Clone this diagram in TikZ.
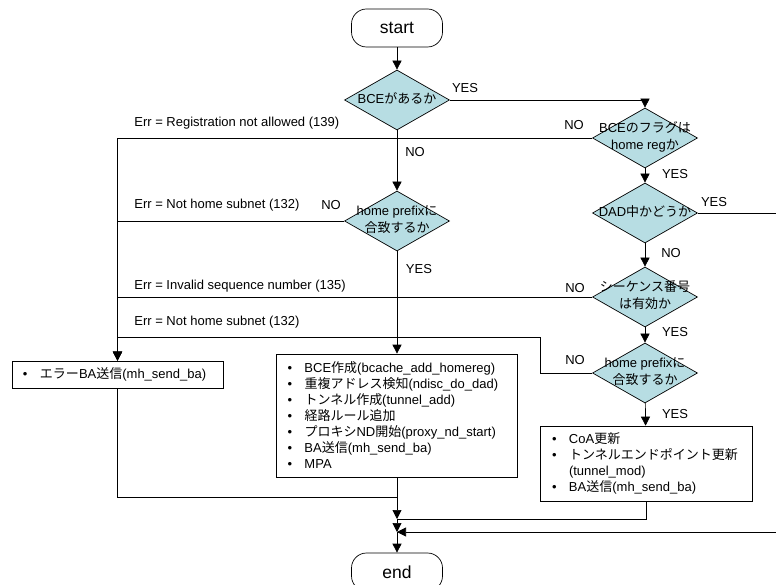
\documentclass[tikz,border=0pt]{standalone}
\usepackage{fontspec}
\setmainfont{Liberation Sans}
\newfontfamily\jpfont{Noto Sans CJK JP}
\newcommand{\jp}[1]{{\jpfont #1}}
\newcommand{\dlab}[1]{\smash{\makebox[0pt]{\raisebox{-3pt}{\begin{tabular}{@{}c@{}}#1\end{tabular}}}}}
\newcommand{\itm}[1]{\makebox[17pt][l]{\textbullet}#1}
\usetikzlibrary{shapes.geometric,arrows.meta}
\definecolor{decfill}{RGB}{183,221,227}

\begin{document}
\begin{tikzpicture}[x=1pt, y=-1pt, line width=0.7pt,
  >={Triangle[length=9pt,width=9pt]},
  term/.style={draw, rounded corners=15pt, minimum width=91pt,
    minimum height=38pt, inner sep=0pt, font=\fontsize{17.5}{20}\selectfont},
  dec/.style={draw, shape=diamond, fill=decfill, minimum width=105pt,
    minimum height=60pt, inner sep=0pt, font=\fontsize{13}{17}\selectfont},
  proc/.style={draw, align=left, inner ysep=0pt,
    font=\fontsize{13}{16}\selectfont},
  lbl/.style={inner sep=0pt, font=\fontsize{13}{15}\selectfont}]
  \useasboundingbox (0,0) rectangle (776,585);
  % Inicio y fin
  \node[term] (start) at (397,28) {start};
  \node[term] (end) at (397,572) {end};
  % Decisiones
  \node[dec] (bce) at (397,100) {\dlab{BCE\jp{があるか}}};
  \node[dec] (flag) at (645,138) {\dlab{BCE\jp{のフラグは}\\home reg\jp{か}}};
  \node[dec] (pfx) at (397,221) {\dlab{home prefix\jp{に}\\\jp{合致するか}}};
  \node[dec] (dad) at (645,213) {\dlab{DAD\jp{中かどうか}}};
  \node[dec] (seq) at (645,297) {\dlab{\jp{シーケンス番号}\\\jp{は有効か}}};
  \node[dec] (pfxb) at (645,373) {\dlab{home prefix\jp{に}\\\jp{合致するか}}};
  % Procesos
  \node[proc, text width=189pt, minimum height=27pt, inner xsep=11pt]
    (errba) at (117.5,374.5) {\itm{\jp{エラー}BA\jp{送信}(mh\_send\_ba)}};
  \node[proc, text width=219pt, minimum height=123pt, inner xsep=11pt]
    (newbce) at (397,415.5) {\itm{BCE\jp{作成}(bcache\_add\_homereg)}\\
    \itm{\jp{重複アドレス検知}(ndisc\_do\_dad)}\\
    \itm{\jp{トンネル作成}(tunnel\_add)}\\
    \itm{\jp{経路ルール追加}}\\
    \itm{\jp{プロキシ}ND\jp{開始}(proxy\_nd\_start)}\\
    \itm{BA\jp{送信}(mh\_send\_ba)}\\
    \itm{MPA}};
  \node[proc, text width=188pt, minimum height=75pt, inner xsep=12pt]
    (upd) at (646,463.5) {\itm{CoA\jp{更新}}\\
    \itm{\jp{トンネルエンドポイント更新}}\\
    \hspace*{17pt}(tunnel\_mod)\\
    \itm{BA\jp{送信}(mh\_send\_ba)}};
  % Puntos de union
  \coordinate (k) at (540,337);
  \coordinate (j0) at (397,497);
  \coordinate (j1) at (397,519);
  \coordinate (j2) at (397,532);
  % Conectores
  \draw[->] (start) -- (bce);
  \draw[->] (bce.east) -| (flag.north);
  \draw[->] (bce) -- (pfx);
  \draw[->] (flag.west) -| (errba.north);
  \draw[->] (flag) -- (dad);
  \draw[->] (pfx.west) -| (errba.north);
  \draw[->] (pfx) -- (newbce);
  \draw[->] (dad) -- (seq);
  \draw[->] (seq.west) -| (errba.north);
  \draw[->] (seq) -- (pfxb);
  \draw[->] (pfxb.west) -| (k) -| (errba.north);
  \draw[->] (pfxb) -- (upd);
  \draw (errba.south) |- (j0);
  \draw[->] (newbce.south) -- (j1);
  \draw (upd.south) |- (j1);
  \draw[->] (j1) -- (j2);
  \draw[->] (dad.east) -- ++(83,0) |- (j2);
  \draw[->] (j2) -- (end);
  % Etiquetas
  \node[lbl] (y1) at (465,88) {YES};
  \node[lbl] (n1) at (415,152) {NO};
  \node[lbl] (n2) at (574,125) {NO};
  \node[lbl] (y2) at (675,174) {YES};
  \node[lbl] (y3) at (714,202) {YES};
  \node[lbl] (n3) at (671,253) {NO};
  \node[lbl] (n4) at (331,205) {NO};
  \node[lbl] (y4) at (419,269) {YES};
  \node[lbl] (n5) at (575,288) {NO};
  \node[lbl] (y5) at (675,332) {YES};
  \node[lbl] (n6) at (575,360) {NO};
  \node[lbl] (y6) at (675,414) {YES};
  \node[lbl, anchor=west] (e1) at (134,123) {Err = Registration not allowed (139)};
  \node[lbl, anchor=west] (e2) at (134,205) {Err = Not home subnet (132)};
  \node[lbl, anchor=west] (e3) at (134,286) {Err = Invalid sequence number (135)};
  \node[lbl, anchor=west] (e4) at (134,322) {Err = Not home subnet (132)};
\end{tikzpicture}
\end{document}
